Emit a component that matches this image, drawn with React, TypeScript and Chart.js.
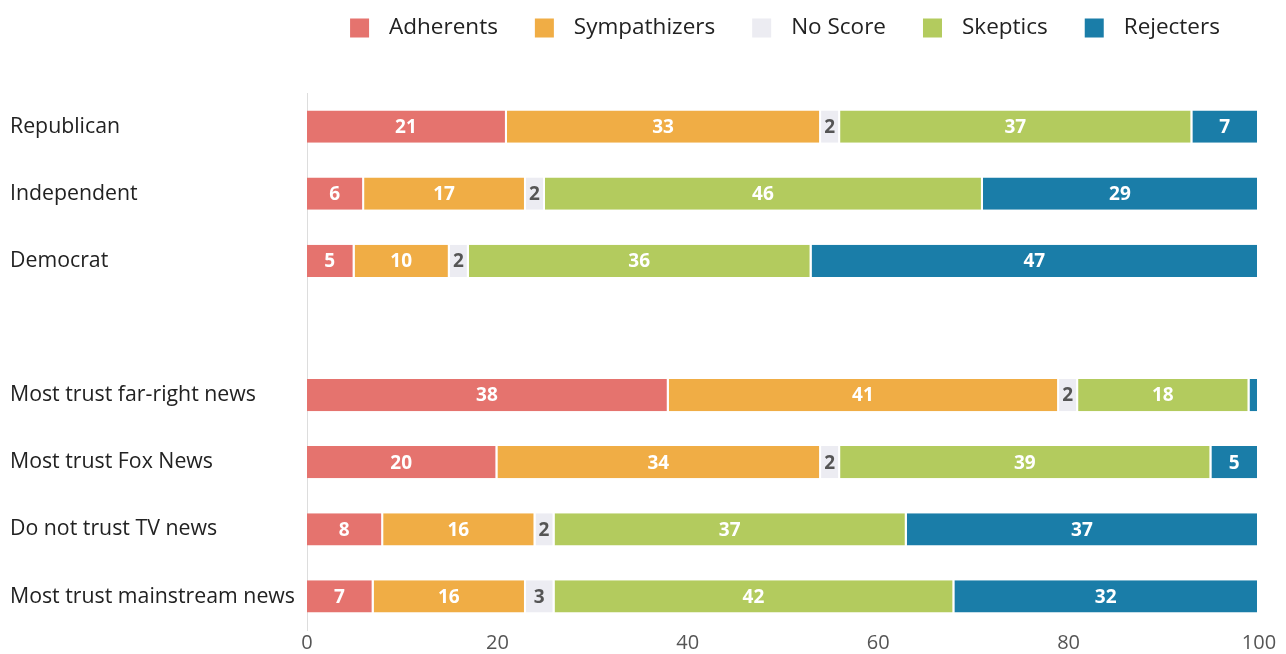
import React, { useEffect, useRef } from 'react';
import { Chart, registerables } from 'chart.js';

Chart.register(...registerables);

const categories = [
  'Republican',
  'Independent',
  'Democrat',
  '',
  'Most trust far-right news',
  'Most trust Fox News',
  'Do not trust TV news',
  'Most trust mainstream news',
];
const adherents = [21, 6, 5, null, 38, 20, 8, 7];
const sympathizers = [33, 17, 10, null, 41, 34, 16, 16];
const noScore = [2, 2, 2, null, 2, 2, 2, 3];
const skeptics = [37, 46, 36, null, 18, 39, 37, 42];
const rejecters = [7, 29, 47, null, 1, 5, 37, 32];
const seriesNames = ['Adherents', 'Sympathizers', 'No Score', 'Skeptics', 'Rejecters'];
const seriesValues = [adherents, sympathizers, noScore, skeptics, rejecters];
const seriesColors = ['#E5736E', '#F0AD45', '#ECECF2', '#B3CB5E', '#1A7DA8'];
const labelColors = ['#ffffff', '#ffffff', '#555555', '#ffffff', '#ffffff'];
const xTickValues = [0, 20, 40, 60, 80, 100];

const FONT = '"Open Sans", "Noto Sans", sans-serif';

const legendPlugin = {
  id: 'topLegend',
  afterDraw(chart: any) {
    const ctx = chart.ctx;
    const area = chart.chartArea;
    ctx.save();
    ctx.font = `22.5px ${FONT}`;
    const box = 19;
    const gapBoxText = 20;
    const gapItems = 37;
    const widths = seriesNames.map((n) => ctx.measureText(n).width);
    const total =
      widths.reduce((a, w) => a + box + gapBoxText + w, 0) + gapItems * (seriesNames.length - 1);
    let x = (area.left + area.right) / 2 + 2 - total / 2;
    const y = 28;
    ctx.textBaseline = 'middle';
    ctx.textAlign = 'left';
    seriesNames.forEach((name, i) => {
      ctx.fillStyle = seriesColors[i];
      ctx.fillRect(x, y - box / 2, box, box);
      x += box + gapBoxText;
      ctx.fillStyle = '#222222';
      ctx.fillText(name, x, y);
      x += widths[i] + gapItems;
    });
    ctx.restore();
  },
};

const valueLabelPlugin = {
  id: 'valueLabels',
  afterDatasetsDraw(chart: any) {
    const ctx = chart.ctx;
    ctx.save();
    ctx.font = `bold 19px ${FONT}`;
    ctx.textAlign = 'center';
    ctx.textBaseline = 'middle';
    chart.data.datasets.forEach((ds: any, di: number) => {
      const meta = chart.getDatasetMeta(di);
      meta.data.forEach((el: any, i: number) => {
        const v = ds.data[i];
        if (v == null || v < 2) return;
        const cx = (el.x + el.base) / 2 - 1;
        ctx.fillStyle = labelColors[di];
        ctx.fillText(String(v), cx, el.y + 1);
      });
    });
    ctx.restore();
  },
};

export default function App() {
  const canvasRef = useRef<HTMLCanvasElement | null>(null);

  useEffect(() => {
    document.body.style.margin = '0';
    const canvas = canvasRef.current;
    if (!canvas) return;
    Chart.defaults.font.family = FONT;
    const chart = new Chart(canvas, {
      type: 'bar',
      data: {
        labels: categories,
        datasets: seriesNames.map((name, i) => ({
          label: name,
          data: seriesValues[i],
          backgroundColor: seriesColors[i],
          borderColor: '#ffffff',
          borderWidth: { top: 0, bottom: 0, left: 0, right: 2 },
          borderSkipped: false,
          categoryPercentage: 1,
          barPercentage: 0.48,
        })),
      },
      options: {
        indexAxis: 'y',
        animation: false,
        responsive: true,
        maintainAspectRatio: false,
        layout: { padding: { left: 10, right: 27, top: 93, bottom: 0 } },
        plugins: {
          legend: { display: false },
          tooltip: { enabled: false },
        },
        scales: {
          x: {
            stacked: true,
            min: 0,
            max: 100,
            afterBuildTicks: (scale: any) => {
              scale.ticks = xTickValues.map((v) => ({ value: v }));
            },
            afterFit: (scale: any) => {
              scale.height = 24;
            },
            grid: { display: false, drawTicks: false },
            border: { display: false },
            ticks: {
              color: '#555555',
              padding: 1,
              font: { size: 20, family: FONT },
              maxRotation: 0,
            },
          },
          y: {
            stacked: true,
            afterFit: (scale: any) => {
              scale.width = 297;
            },
            grid: { display: false, drawTicks: false },
            border: { display: true, color: '#dddddd', width: 1 },
            ticks: {
              crossAlign: 'far',
              color: '#222222',
              font: { size: 21.3, family: FONT },
              padding: 0,
            },
          },
        },
      },
      plugins: [legendPlugin, valueLabelPlugin],
    });
    return () => chart.destroy();
  }, []);

  return (
    <div style={{ position: 'relative', width: 1286, height: 654 }}>
      <canvas ref={canvasRef} />
    </div>
  );
}
